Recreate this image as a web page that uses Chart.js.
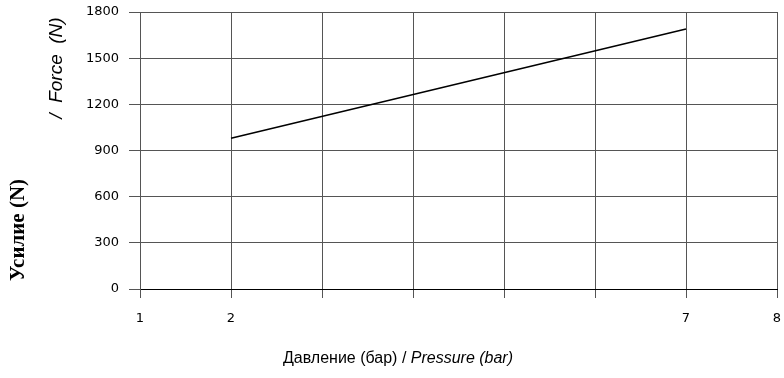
<!DOCTYPE html>
<html>
<head>
<meta charset="utf-8">
<script src="https://cdn.jsdelivr.net/npm/chart.js@4.4.0/dist/chart.umd.min.js"></script>
<style>
  html, body { margin: 0; padding: 0; background: #fff; }
  #wrap { width: 784px; height: 378px; }
</style>
</head>
<body>
<div id="wrap"><canvas id="forceChart" width="784" height="378"></canvas></div>
<script>
// data
const pressure = [2, 7];
const force = [980, 1690];
const xTickLabels = { 1: "1", 2: "2", 7: "7", 8: "8" };
const yTicks = [0, 300, 600, 900, 1200, 1500, 1800];

const yTitleRu = "Усилие (N)";
const yTitleEn = "/  Force  (N)";
const xTitleRu = "Давление (бар) / ";
const xTitleEn = "Pressure (bar)";

const tickFont = { family: "DejaVu Sans", size: 13 };

// axis titles are mixed-font, so draw them by hand
const titlesPlugin = {
  id: "titles",
  afterDraw(chart) {
    const ctx = chart.ctx;
    ctx.save();
    ctx.fillStyle = "#000";
    ctx.textBaseline = "middle";

    // x title: normal + italic, centred around x=397
    ctx.font = "16px 'Liberation Sans'";
    const w1 = ctx.measureText(xTitleRu).width;
    ctx.font = "italic 16px 'Liberation Sans'";
    const w2 = ctx.measureText(xTitleEn).width;
    let x0 = 398 - (w1 + w2) / 2;
    ctx.textAlign = "left";
    ctx.font = "16px 'Liberation Sans'";
    ctx.fillText(xTitleRu, x0, 359);
    ctx.font = "italic 16px 'Liberation Sans'";
    ctx.fillText(xTitleEn, x0 + w1, 359);

    // y titles, rotated
    ctx.textAlign = "center";
    ctx.save();
    ctx.translate(19, 230);
    ctx.rotate(-Math.PI / 2);
    ctx.font = "bold 21px 'Liberation Serif'";
    ctx.fillText(yTitleRu, 0, 0);
    ctx.restore();

    ctx.save();
    ctx.translate(57, 68);
    ctx.rotate(-Math.PI / 2);
    ctx.font = "italic 19px 'Liberation Sans'";
    ctx.fillText(yTitleEn, 0, 0);
    ctx.restore();

    ctx.restore();
  }
};

const chart = new Chart(document.getElementById("forceChart"), {
  type: "scatter",
  data: {
    datasets: [{
      data: pressure.map((p, i) => ({ x: p, y: force[i] })),
      showLine: true,
      borderColor: "#000",
      borderWidth: 1.5,
      pointRadius: 0,
      fill: false,
      tension: 0
    }]
  },
  options: {
    responsive: false,
    animation: false,
    layout: { padding: { top: 12, right: 7, left: 0, bottom: 0 } },
    plugins: {
      legend: { display: false },
      tooltip: { enabled: false }
    },
    scales: {
      x: {
        type: "linear",
        min: 1,
        max: 8,
        afterFit: s => {
          s.height = 89;
          s.paddingLeft = 0;
          s.paddingRight = 0;
        },
        afterBuildTicks: s => { s.ticks = [1, 2, 3, 4, 5, 6, 7, 8].map(v => ({ value: v })); },
        ticks: {
          color: "#000",
          font: tickFont,
          padding: 13,
          maxRotation: 0,
          autoSkip: false,
          callback: v => xTickLabels[v] || ""
        },
        grid: { color: "#555", lineWidth: 1, tickLength: 9 },
        border: { color: "#000", width: 1 }
      },
      y: {
        min: 0,
        max: 1800,
        afterFit: s => {
          s.width = 140;
          s.paddingTop = 0;
          s.paddingBottom = 0;
        },
        afterBuildTicks: s => { s.ticks = yTicks.map(v => ({ value: v })); },
        ticks: {
          color: "#000",
          font: tickFont,
          padding: 10,
          callback: v => String(v)
        },
        grid: { color: "#555", lineWidth: 1, tickLength: 11 },
        border: { color: "#555", width: 1 }
      }
    }
  },
  plugins: [titlesPlugin]
});
</script>
</body>
</html>
